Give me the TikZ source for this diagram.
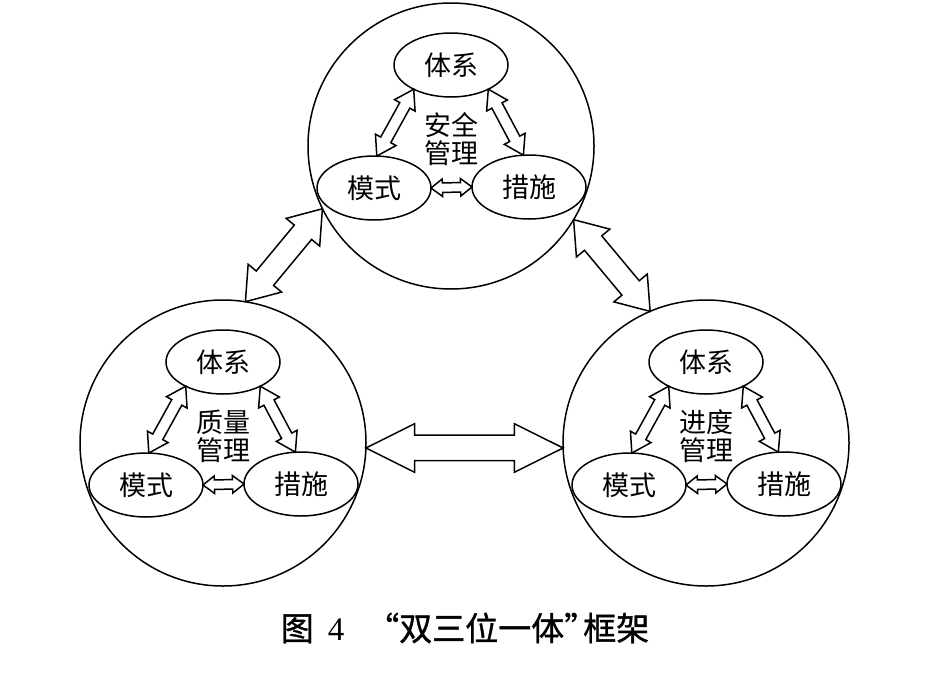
\documentclass[tikz,border=0pt]{standalone}
\usepackage{fontspec}
\usepackage{tikz}
\usetikzlibrary{shapes.geometric,shapes.arrows,calc}
\setmainfont{Liberation Serif}
\newfontfamily\cjk{Noto Sans CJK SC}
\newfontfamily\cjkbold[FakeBold=1]{Noto Sans CJK SC}

\newcommand{\dblink}[3]{%
  \path let \p1=(#2), \p2=(#3), \n1={veclen(\x2-\x1,\y2-\y1)} in
    (\p1) -- node[#1, minimum height=\n1] {} (\p2);}

\begin{document}
\begin{tikzpicture}[
  x=1pt, y=-1pt,
  domaincirc/.style={draw, circle, line width=1.5pt, minimum size=286pt, inner sep=0pt, outer sep=0pt},
  itemnode/.style={draw, ellipse, line width=1.5pt, minimum width=114pt, minimum height=64pt,
                   inner sep=0pt, outer sep=0pt, font=\cjk\fontsize{27pt}{30pt}\selectfont},
  domainlabel/.style={align=center, inner sep=0pt, font=\cjk\fontsize{27pt}{28pt}\selectfont},
  dblarr/.style={draw, double arrow, line width=1.5pt, fill=white, inner xsep=0pt, outer sep=0pt, sloped},
  bigarr/.style={dblarr, inner ysep=12pt, double arrow head extend=11.5pt, double arrow tip angle=53},
  diagarr/.style={dblarr, inner ysep=10.5pt, double arrow head extend=10.5pt, double arrow tip angle=71},
  smallarr/.style={dblarr, inner ysep=5pt, double arrow head extend=6pt, double arrow tip angle=65},
  tinyarr/.style={dblarr, inner ysep=4pt, double arrow head extend=4pt, double arrow tip angle=75},
  captext/.style={font=\cjkbold\fontsize{33pt}{36pt}\selectfont, inner sep=0pt},
]

\useasboundingbox (0,0) rectangle (933,672);

\foreach \d/\cx/\cy/\lbl in {S/451/146/{安全\\管理}, Q/223/443/{质量\\管理}, P/706/443/{进度\\管理}}{
  \node[domaincirc] (\d) at (\cx,\cy) {};
  \node[itemnode] (\d-sys)  at (\cx,\cy-81)    {体系};
  \node[itemnode] (\d-mode) at (\cx-77,\cy+42) {模式};
  \node[itemnode] (\d-meas) at (\cx+78,\cy+41) {措施};
  \node[domainlabel] (\d-lbl) at (\cx,\cy-7) {\lbl};
  \dblink{smallarr}{\d-sys.213}{\d-mode.85}
  \dblink{smallarr}{\d-sys.327}{\d-meas.100}
  \dblink{tinyarr}{\d-mode.0}{\d-meas.180}
}

\dblink{diagarr}{S.206}{Q.81}
\dblink{diagarr}{S.329}{P.113}
\dblink{bigarr}{Q.358}{P.182}

\node[captext] (cap) at (465,628) {图\hspace{14pt}{\rmfamily\mdseries 4}\hspace{22pt}“双三位一体”\hspace{-14pt}框架};

\end{tikzpicture}
\end{document}
